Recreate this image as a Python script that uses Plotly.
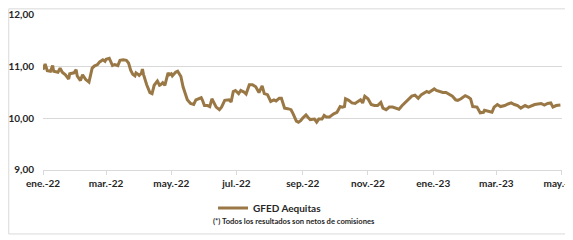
import plotly.graph_objects as go

dates = [
    "2022-01-01","2022-01-03","2022-01-05","2022-01-08","2022-01-10","2022-01-11","2022-01-15","2022-01-17",
    "2022-01-19","2022-01-22","2022-01-25","2022-01-26","2022-01-30","2022-02-01","2022-02-02","2022-02-05",
    "2022-02-07","2022-02-10","2022-02-13","2022-02-16","2022-02-18","2022-02-21","2022-02-23","2022-02-26",
    "2022-02-28","2022-03-01","2022-03-04","2022-03-06","2022-03-07","2022-03-09","2022-03-12","2022-03-14",
    "2022-03-17","2022-03-20","2022-03-22","2022-03-24","2022-03-26","2022-03-28","2022-03-29","2022-03-31",
    "2022-04-01","2022-04-03","2022-04-04","2022-04-05","2022-04-08","2022-04-11","2022-04-13","2022-04-15",
    "2022-04-16","2022-04-18","2022-04-20","2022-04-21","2022-04-23","2022-04-25","2022-04-26","2022-04-28",
    "2022-04-29","2022-05-01","2022-05-02","2022-05-05","2022-05-07","2022-05-08","2022-05-10","2022-05-12",
    "2022-05-15","2022-05-16","2022-05-19","2022-05-22","2022-05-24","2022-05-27","2022-05-29","2022-05-30",
    "2022-06-01","2022-06-04","2022-06-06","2022-06-08","2022-06-10","2022-06-12","2022-06-15","2022-06-17",
    "2022-06-20","2022-06-24","2022-06-26","2022-06-28","2022-06-30","2022-07-03","2022-07-05","2022-07-08",
    "2022-07-10","2022-07-13","2022-07-16","2022-07-19","2022-07-22","2022-07-25","2022-07-27","2022-07-30",
    "2022-08-02","2022-08-05","2022-08-07","2022-08-10","2022-08-12","2022-08-15","2022-08-18","2022-08-21",
    "2022-08-23","2022-08-26","2022-08-28","2022-08-30","2022-09-01","2022-09-04","2022-09-06","2022-09-08",
    "2022-09-12","2022-09-14","2022-09-16","2022-09-19","2022-09-21","2022-09-23","2022-09-26","2022-09-28",
    "2022-09-30","2022-10-03","2022-10-06","2022-10-08","2022-10-10","2022-10-11","2022-10-14","2022-10-17",
    "2022-10-20","2022-10-22","2022-10-25","2022-10-27","2022-10-29","2022-11-01","2022-11-04","2022-11-07",
    "2022-11-10","2022-11-13","2022-11-15","2022-11-18","2022-11-21","2022-11-24","2022-11-27","2022-11-30",
    "2022-12-03","2022-12-06","2022-12-09","2022-12-12","2022-12-15","2022-12-18","2022-12-21","2022-12-26",
    "2022-12-28","2022-12-31","2023-01-02","2023-01-04","2023-01-07","2023-01-10","2023-01-13","2023-01-16",
    "2023-01-19","2023-01-22","2023-01-24","2023-01-27","2023-01-31","2023-02-03","2023-02-05","2023-02-07",
    "2023-02-11","2023-02-14","2023-02-17","2023-02-18","2023-02-22","2023-02-25","2023-02-27","2023-03-02",
    "2023-03-05","2023-03-09","2023-03-12","2023-03-15","2023-03-18","2023-03-21","2023-03-24","2023-03-28",
    "2023-03-31","2023-04-03","2023-04-06","2023-04-09","2023-04-12","2023-04-15","2023-04-18","2023-04-21",
    "2023-04-23","2023-04-26","2023-04-29","2023-04-30",
]

values = [
    10.93,11.04,10.91,10.90,11.01,10.90,10.88,10.96,
    10.88,10.83,10.75,10.85,10.87,10.93,10.81,10.72,
    10.83,10.74,10.69,10.96,11.00,11.03,11.08,11.12,
    11.09,11.13,11.15,11.06,11.01,11.03,11.01,11.11,
    11.12,11.11,11.06,10.92,10.84,10.81,10.87,10.84,
    10.82,10.86,10.94,10.84,10.64,10.49,10.47,10.63,
    10.65,10.71,10.63,10.64,10.68,10.63,10.71,10.87,
    10.83,10.85,10.81,10.88,10.90,10.87,10.80,10.60,
    10.43,10.35,10.28,10.26,10.35,10.38,10.39,10.35,
    10.24,10.24,10.22,10.37,10.29,10.21,10.16,10.21,
    10.34,10.35,10.31,10.51,10.53,10.47,10.53,10.50,
    10.46,10.64,10.64,10.60,10.49,10.62,10.47,10.45,
    10.32,10.35,10.33,10.38,10.38,10.19,10.18,10.16,
    10.08,9.94,9.92,9.95,10.00,10.06,10.01,9.97,
    9.98,9.92,9.98,9.98,10.05,10.02,10.02,10.06,
    10.08,10.11,10.22,10.21,10.22,10.37,10.34,10.29,
    10.28,10.31,10.35,10.29,10.42,10.37,10.26,10.24,
    10.24,10.30,10.19,10.16,10.21,10.21,10.19,10.17,
    10.24,10.30,10.35,10.42,10.44,10.38,10.45,10.51,
    10.49,10.54,10.56,10.53,10.51,10.49,10.49,10.45,
    10.42,10.35,10.34,10.37,10.43,10.40,10.37,10.22,
    10.21,10.10,10.11,10.15,10.12,10.11,10.21,10.26,
    10.22,10.24,10.27,10.29,10.26,10.24,10.19,10.24,
    10.21,10.24,10.26,10.27,10.28,10.25,10.28,10.29,
    10.21,10.24,10.25,10.25,
]

tick_dates = ["2022-01-01","2022-03-01","2022-05-01","2022-07-01","2022-09-01",
              "2022-11-01","2023-01-01","2023-03-01","2023-05-01"]
tick_labels = ["ene.-22","mar.-22","may.-22","jul.-22","sep.-22",
               "nov.-22","ene.-23","mar.-23","may.-23"]

series_name = "GFED Aequitas"
footnote = "(*) Todos los resultados son netos de comisiones"

FONT = "Lato"
TXT = "#262626"

fig = go.Figure()
fig.add_trace(go.Scatter(
    x=dates, y=values, mode="lines", name=series_name,
    line=dict(color="#9A7846", width=3),
))

fig.update_layout(
    width=565, height=232,
    margin=dict(l=35, r=11, t=6, b=70),
    paper_bgcolor="white", plot_bgcolor="white",
    separators=",.",
    font=dict(family=FONT, size=10, color=TXT, weight="bold"),
    showlegend=True,
    legend=dict(
        orientation="h", x=0.3276, y=-0.244, xanchor="left", yanchor="middle",
        itemwidth=30, font=dict(family=FONT, size=10, color=TXT, weight="bold"),
        bgcolor="rgba(0,0,0,0)",
    ),
    xaxis=dict(
        type="date", range=["2022-01-01", "2023-05-01 12:00"],
        tickvals=tick_dates, ticktext=tick_labels,
        showgrid=False, showline=True, linecolor="#d9d9d9", linewidth=1,
        ticks="outside", ticklen=4, tickcolor="#d9d9d9",
        tickfont=dict(family=FONT, size=10, color=TXT, weight="bold"),
        automargin=False, zeroline=False, ticklabeloverflow="allow",
    ),
    yaxis=dict(
        range=[8.999, 12.002], tickvals=[9, 10, 11, 12], tickformat=".2f",
        showgrid=True, gridcolor="#d9d9d9", gridwidth=1,
        showline=False, zeroline=False, ticks="", ticklabelstandoff=8,
        tickfont=dict(family=FONT, size=10, color=TXT, weight="bold"),
        automargin=False, ticklabeloverflow="allow",
    ),
    annotations=[dict(
        text=footnote, xref="paper", yref="paper", x=0.484, y=-0.327,
        xanchor="center", yanchor="middle", showarrow=False,
        font=dict(family=FONT, size=7.6, color=TXT, weight="bold"),
    )],
    shapes=[dict(
        type="rect", xref="paper", yref="paper",
        x0=-0.066, x1=1.05, y0=-0.41, y1=1.033,
        line=dict(color="#d9d9d9", width=1), fillcolor="rgba(0,0,0,0)", layer="below",
    )],
)

fig.write_html("out.html")
